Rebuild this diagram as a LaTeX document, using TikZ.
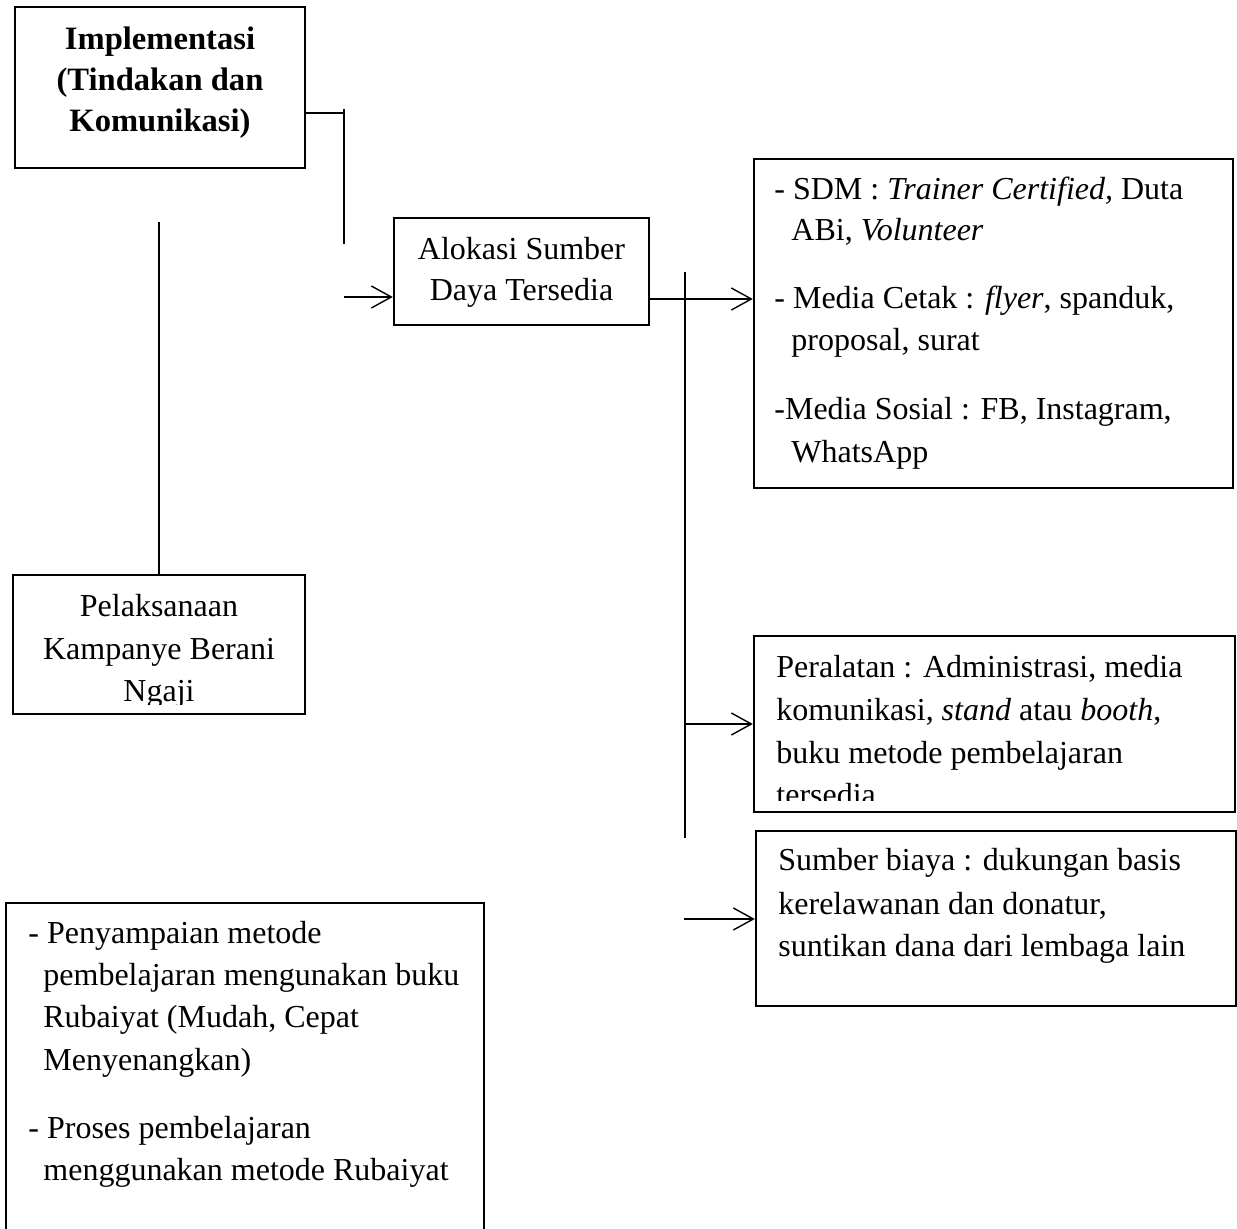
\documentclass[tikz,border=0pt]{standalone}
\usepackage{fontspec}
\setmainfont{Liberation Serif}
\usetikzlibrary{arrows.meta}
\begin{document}
\begin{tikzpicture}[x=0.5pt,y=-0.5pt,
  box/.style={draw, line width=1.2pt, inner sep=0pt},
  conn/.style={line width=0.7pt},
  arr/.style={conn, -{Straight Barb[length=10pt,width=11pt,line width=0.7pt]}},
  txt/.style={inner sep=0pt, font=\fontsize{16}{20}\selectfont},
  txtb/.style={inner sep=0pt, font=\fontsize{16.3}{20}\selectfont\bfseries},
  lt/.style={txt, anchor=base west},
  ct/.style={txt, anchor=base}]
\clip (0,0) rectangle (1237,1229);
\fill[white] (0,0) rectangle (1237,1229);

% boxes
\node[box, minimum width=145pt, minimum height=80.5pt] (impl) at (160,87.5) {};
\node[box, minimum width=127.5pt, minimum height=53.5pt] (alok) at (521.5,271.5) {};
\node[box, minimum width=239.5pt, minimum height=164.5pt] (sdm) at (993.5,323.5) {};
\node[box, minimum width=146pt, minimum height=69.5pt] (pel) at (159,644.5) {};
\node[box, minimum width=240.5pt, minimum height=88pt] (peral) at (994.5,724) {};
\node[box, minimum width=240pt, minimum height=87.5pt] (sumb) at (996,918.5) {};
\node[box, minimum width=239pt, minimum height=168.5pt] (proc) at (245,1071.5) {};

% texts
\node[txtb, anchor=base] (impl1) at (160,50) {Implementasi};
\node[txtb, anchor=base] (impl2) at (160,91) {(Tindakan dan};
\node[txtb, anchor=base] (impl3) at (160,132) {Komunikasi)};

\node[ct] (alok1) at (521.5,260) {Alokasi Sumber};
\node[ct] (alok2) at (521.5,301) {Daya Tersedia};

\node[lt] (sdm1) at (774,200) {- SDM : \textit{Trainer Certified,} Duta};
\node[lt] (sdm2) at (791,241) {ABi, \textit{Volunteer}};
\node[lt] (sdm3) at (774,309) {- Media Cetak : \textit{flyer}, spanduk,};
\node[lt] (sdm4) at (791,351) {proposal, surat};
\node[lt] (sdm5) at (774,420) {-Media Sosial : FB, Instagram,};
\node[lt] (sdm6) at (791,463) {WhatsApp};

\node[ct] (pel1) at (159,617) {Pelaksanaan};
\node[ct] (pel2) at (159,660) {Kampanye Berani};
\begin{scope}
  \clip (13,575) rectangle (305,704);
  \node[ct] (pel3) at (159,701) {Ngaji};
\end{scope}

\node[lt] (per1) at (776,677) {Peralatan : Administrasi, media};
\node[lt] (per2) at (776,720) {komunikasi, \textit{stand} atau \textit{booth},};
\node[lt] (per3) at (776,763) {buku metode pembelajaran};
\begin{scope}
  \clip (754,636) rectangle (1235,800);
  \node[lt] (per4) at (776,805) {tersedia};
\end{scope}

\node[lt] (sum1) at (778,870) {Sumber biaya : dukungan basis};
\node[lt] (sum2) at (778,914) {kerelawanan dan donatur,};
\node[lt] (sum3) at (778,956) {suntikan dana dari lembaga lain};

\node[lt] (pr1) at (28,943) {- Penyampaian metode};
\node[lt] (pr2) at (43,985) {pembelajaran mengunakan buku};
\node[lt] (pr3) at (43,1027) {Rubaiyat (Mudah, Cepat};
\node[lt] (pr4) at (43,1070) {Menyenangkan)};
\node[lt] (pr5) at (28,1138) {- Proses pembelajaran};
\node[lt] (pr6) at (43,1180) {menggunakan metode Rubaiyat};

% connectors
\coordinate (j1) at (344,113);
\coordinate (j1t) at (344,109);
\coordinate (j1b) at (344,244);
\draw[conn] (impl.east |- j1) -- (j1);
\draw[conn] (j1t) -- (j1b);

\coordinate (v1) at (160,222);
\draw[conn] (pel.north) -- (pel.north |- v1);

\coordinate (a1) at (344,297);
\draw[arr] (a1) -- (alok.west |- a1);

\coordinate (a2) at (700,299);
\draw[arr] (alok.east |- a2) -- (sdm.west |- a2);

\coordinate (v2t) at (685,272);
\coordinate (v2b) at (685,838);
\draw[conn] (v2t) -- (v2b);

\coordinate (a3) at (684,724);
\draw[arr] (a3) -- (peral.west |- a3);

\coordinate (a4) at (684,919);
\draw[arr] (a4) -- (sumb.west |- a4);
\end{tikzpicture}
\end{document}
